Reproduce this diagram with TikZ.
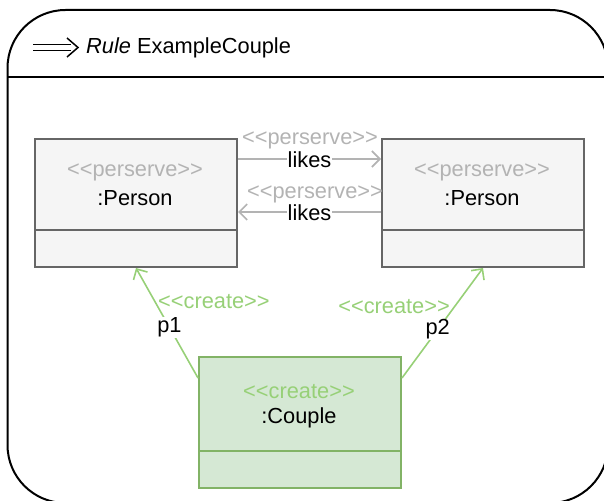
\documentclass[tikz,border=0pt]{standalone}
\usepackage{fontspec}
\setmainfont{Liberation Sans}[Ligatures=TeXOff]
\usetikzlibrary{arrows.meta}
\definecolor{boxgray}{HTML}{F5F5F5}
\definecolor{boxedge}{HTML}{666666}
\definecolor{stgray}{HTML}{B3B3B3}
\definecolor{gfill}{HTML}{D5E8D4}
\definecolor{gedge}{HTML}{82B366}
\definecolor{gline}{HTML}{97D077}
\begin{document}
\begin{tikzpicture}[x=1pt,y=-1pt,
  font=\fontsize{21.8}{25}\selectfont,
  pbox/.style={draw=boxedge, fill=boxgray, line width=2pt, minimum width=202pt, minimum height=128pt, anchor=north west, inner sep=0pt},
  cbox/.style={draw=gedge, fill=gfill, line width=2pt, minimum width=202pt, minimum height=131pt, anchor=north west, inner sep=0pt},
  stereo/.style={text=stgray, inner sep=1pt},
  gstereo/.style={text=gline, inner sep=1pt},
  plain/.style={text=black, inner sep=1pt},
  grayarrow/.style={draw=stgray, line width=1.6pt, -{Straight Barb[length=8pt,width=16pt]}},
  greenarrow/.style={draw=gline, line width=1.6pt, -{Straight Barb[length=8pt,width=16pt]}},
  lbl/.style={fill=white, inner sep=1pt, text=black}
]
\useasboundingbox (0,0) rectangle (604,500);
% frame
\draw[line width=2pt, rounded corners=58pt] (7.5,10) rectangle (608,503);
\draw[line width=2pt] (8,77) -- (608,77);
% header icon
\draw[line width=1.5pt] (33,44.5) -- (71,44.5) (33,50.5) -- (71,50.5);
\draw[line width=1.5pt] (67,38) -- (78,47.5) -- (67,57);
\node[anchor=west, inner sep=0pt] (title) at (86,48) {\itshape Rule\/\upshape{} ExampleCouple};
% left person
\node[pbox] (lp) at (34,138) {};
\draw[draw=boxedge, line width=2pt] (lp.west |- 0,230) -- (lp.east |- 0,230);
\node[stereo] (lps) at (135,172) {<<perserve>>};
\node[plain] (lpn) at (135,198) {:Person};
% right person
\node[pbox] (rp) at (381,138) {};
\draw[draw=boxedge, line width=2pt] (rp.west |- 0,230) -- (rp.east |- 0,230);
\node[stereo] (rps) at (482,172) {<<perserve>>};
\node[plain] (rpn) at (482,198) {:Person};
% couple
\node[cbox] (cp) at (198,356) {};
\draw[draw=gedge, line width=2pt] (cp.west |- 0,451) -- (cp.east |- 0,451);
\node[gstereo] (cps) at (299,392) {<<create>>};
\node[plain] (cpn) at (299,418) {:Couple};
% likes arrows
\draw[grayarrow] (lp.east |- 0,159) -- (rp.west |- 0,159) node[lbl, midway, yshift=-1pt] (l1) {likes};
\node[stereo] (s1) at (310,140) {<<perserve>>};
\draw[grayarrow] (rp.west |- 0,212) -- (lp.east |- 0,212) node[lbl, midway, yshift=-1pt] (l2) {likes};
\node[stereo] (s2) at (315,194) {<<perserve>>};
% create arrows
\coordinate (c1) at (cp.west |- 0,378);
\coordinate (c2) at (cp.east |- 0,378);
\draw[greenarrow] (c1) -- (lp.south) node[lbl, pos=0.46] (p1) {p1};
\node[gstereo, anchor=west] (g1) at (157,302) {<<create>>};
\draw[greenarrow] (c2) -- (rp.south) node[lbl, pos=0.44] (p2) {p2};
\node[gstereo, anchor=east] (g2) at (451,307) {<<create>>};
\end{tikzpicture}
\end{document}
